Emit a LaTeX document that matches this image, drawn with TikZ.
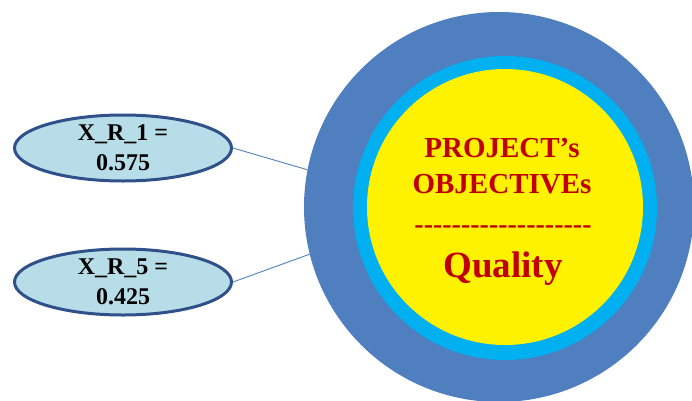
\documentclass[tikz,border=0pt]{standalone}
\usepackage{fontspec}
\setmainfont{Liberation Serif}
\usetikzlibrary{shapes.geometric}
\definecolor{outerblue}{HTML}{4F7FBE}
\definecolor{ringcyan}{HTML}{00B0F0}
\definecolor{ellfill}{HTML}{B7DEE8}
\definecolor{ellborder}{HTML}{2F5089}
\definecolor{linkblue}{HTML}{4F81BD}
\definecolor{objred}{HTML}{C00000}
\tikzset{
  valbox/.style={ellipse, draw=ellborder, line width=3pt, fill=ellfill,
    minimum width=217pt, minimum height=66pt, inner sep=0pt, align=center,
    font=\fontsize{24}{30}\selectfont\bfseries},
  link/.style={draw=linkblue, line width=0.9pt},
  disc/.style={circle, inner sep=0pt}
}
\begin{document}
\begin{tikzpicture}[x=1pt,y=-1pt]
\useasboundingbox (0,0) rectangle (692,400);
\node[disc, fill=outerblue, minimum size=390pt] (outer) at (499,207) {};
\node[disc, fill=ringcyan, minimum size=304pt] (ring) at (505,208) {};
\node[disc, fill=yellow, minimum size=276pt] (core) at (505,207) {};
\node[text=objred, font=\fontsize{29}{36}\selectfont\bfseries, align=center, inner sep=0pt] (title) at (502,166) {PROJECT’s\\OBJECTIVEs};
\node[text=objred, font=\fontsize{28}{28}\selectfont\bfseries, inner sep=0pt] (dash) at (503,230) {-{}-{}-{}-{}-{}-{}-{}-{}-{}-{}-{}-{}-{}-{}-{}-{}-{}-{}-};
\node[text=objred, font=\fontsize{37}{40}\selectfont\bfseries, inner sep=0pt, anchor=base] (qual) at (503,277) {Quality};
\node[valbox] (x1) at (123,148) {X\_R\_1 =\\0.575};
\node[valbox] (x5) at (123,282) {X\_R\_5 =\\0.425};
\draw[link] (x1.east) -- (outer.169);
\draw[link] (x5.east) -- (outer.194);
\end{tikzpicture}
\end{document}
